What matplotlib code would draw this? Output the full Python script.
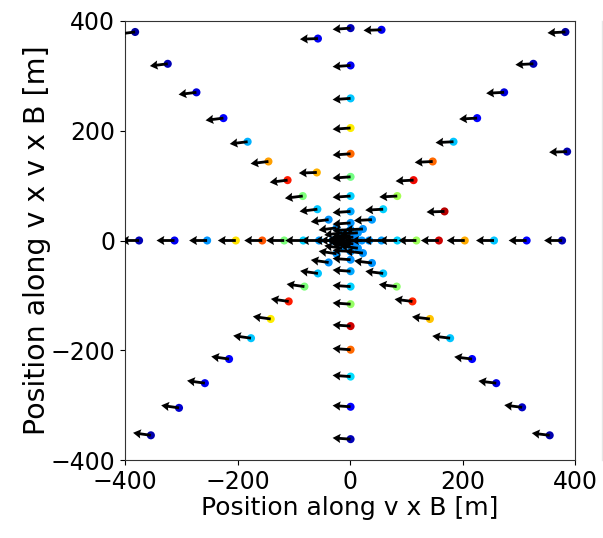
import numpy as np
import matplotlib
matplotlib.use("Agg")
import matplotlib.pyplot as plt
from matplotlib.lines import Line2D

# ---- data (metres in shower plane) ----
# +x arm
x_right = [10, 21, 34, 56, 84, 118, 158, 204, 256, 314, 377]
y_right = [0] * 11
v_right = [0.26, 0.27, 0.27, 0.28, 0.33, 0.54, 0.93, 0.73, 0.32, 0.11, 0.05]
a_right = [180] * 11
# -x arm
x_left = [-10, -21, -31, -55, -83, -117, -156, -203, -254, -312, -375]
y_left = [0] * 11
v_left = [0.26, 0.27, 0.27, 0.28, 0.33, 0.50, 0.82, 0.67, 0.27, 0.10, 0.05]
a_left = [180] * 11
# +y arm
x_top = [1] * 11
y_top = [9, 20, 32, 53, 81, 116, 158, 205, 259, 319, 387]
v_top = [0.26, 0.27, 0.27, 0.29, 0.33, 0.49, 0.80, 0.66, 0.32, 0.10, 0.05]
a_top = [184] * 11
# -y arm
x_bottom = [1] * 11
y_bottom = [-9, -20, -35, -56, -84, -116, -156, -199, -248, -303, -362]
v_bottom = [0.26, 0.27, 0.27, 0.29, 0.33, 0.53, 0.93, 0.80, 0.34, 0.11, 0.05]
a_bottom = [176] * 11
# upper-right diagonal
x_ur = [6, 14, 23, 39, 59, 84, 113, 147, 184, 226, 274, 326, 383]
y_ur = [6, 14, 21, 38, 57, 81, 110, 144, 180, 223, 270, 322, 380]
v_ur = [0.26, 0.27, 0.27, 0.28, 0.33, 0.55, 0.90, 0.80, 0.32, 0.11, 0.08, 0.05, 0.03]
a_ur = [183] * 13
# upper-left diagonal
x_ul = [-6, -14, -24, -38, -58, -84, -111, -145, -182, -225, -273, -324, -382]
y_ul = [6, 14, 23, 38, 57, 81, 110, 144, 180, 223, 270, 322, 380]
v_ul = [0.26, 0.27, 0.27, 0.27, 0.32, 0.50, 0.88, 0.74, 0.30, 0.11, 0.08, 0.05, 0.03]
a_ul = [187] * 13
# lower-left diagonal
x_ll = [-6, -14, -24, -38, -57, -81, -109, -141, -176, -215, -258, -304, -354]
y_ll = [-6, -14, -24, -40, -60, -84, -111, -143, -178, -216, -260, -305, -355]
v_ll = [0.26, 0.27, 0.27, 0.27, 0.32, 0.50, 0.88, 0.66, 0.32, 0.12, 0.10, 0.07, 0.04]
a_ll = [172] * 13
# lower-right diagonal
x_lr = [6, 14, 23, 39, 59, 83, 111, 142, 178, 217, 260, 306, 355]
y_lr = [-6, -14, -23, -41, -60, -84, -111, -143, -178, -216, -260, -304, -355]
v_lr = [0.26, 0.27, 0.27, 0.27, 0.32, 0.52, 0.87, 0.70, 0.32, 0.12, 0.09, 0.06, 0.04]
a_lr = [173] * 13
# isolated stations
x_extra = [-57, -59, 56, 386, 168]
y_extra = [368, 124, 384, 162, 53]
v_extra = [0.10, 0.72, 0.10, 0.04, 0.95]
a_extra = [182] * 5

x_pos = np.array(x_right + x_left + x_top + x_bottom + x_ur + x_ul + x_ll + x_lr + x_extra, float)
y_pos = np.array(y_right + y_left + y_top + y_bottom + y_ur + y_ul + y_ll + y_lr + y_extra, float)
value = np.array(v_right + v_left + v_top + v_bottom + v_ur + v_ul + v_ll + v_lr + v_extra, float)
angle = np.radians(np.array(a_right + a_left + a_top + a_bottom + a_ur + a_ul + a_ll + a_lr + a_extra, float))

xticks = [-400, -200, 0, 200, 400]
yticks = [-400, -200, 0, 200, 400]

fig = plt.figure(figsize=(6.03, 5.38), dpi=100)
ax = fig.add_axes([125 / 603, 1 - 460 / 538, 450 / 603, 439 / 538])

ax.scatter(x_pos, y_pos, c=value, cmap="jet", vmin=0, vmax=1, s=34,
           edgecolors="none", zorder=2)
ax.quiver(x_pos, y_pos, np.cos(angle), np.sin(angle), angles="uv",
          scale_units="inches", scale=1 / 0.18, units="dots", width=2.8,
          headwidth=3.3, headlength=2.8, headaxislength=2.5, color="black",
          zorder=3)

ax.set_xlim(-400, 400)
ax.set_ylim(-400, 400)
ax.set_xticks(xticks)
ax.set_yticks(yticks)
ax.tick_params(labelsize=17)
ax.set_xlabel("Position along v x B [m]", fontsize=18, labelpad=2)
ax.set_ylabel("Position along v x v x B [m]", fontsize=20.5, labelpad=0)
for s in ax.spines.values():
    s.set_color("#333333")

fig.add_artist(Line2D([601.5 / 603, 601.5 / 603], [1 - 460 / 538, 1 - 21 / 538],
                      color="#e6e6e6", lw=1))

fig.savefig("out.png", dpi=100)
